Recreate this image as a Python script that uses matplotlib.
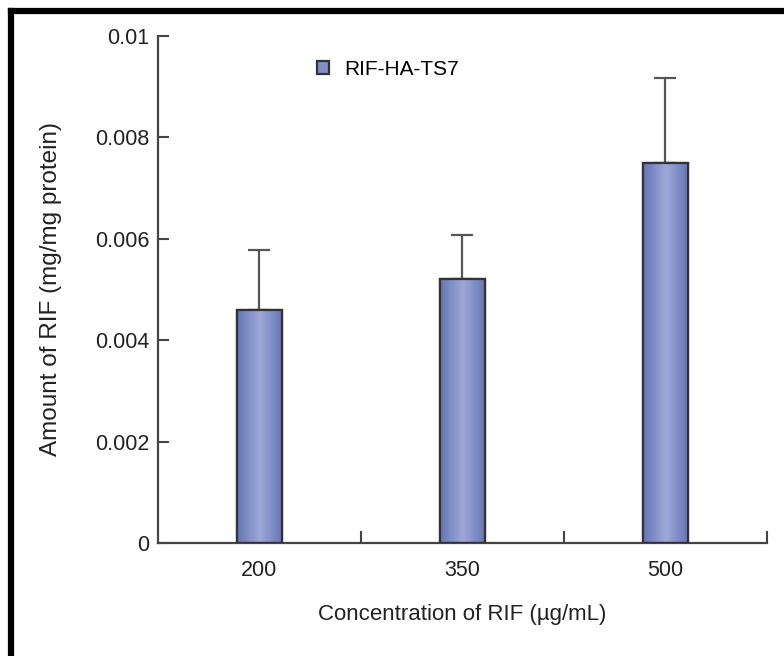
import numpy as np
import matplotlib.pyplot as plt
from matplotlib.lines import Line2D
from matplotlib.colors import LinearSegmentedColormap

plt.rcParams['font.family'] = ['Liberation Sans', 'DejaVu Sans']

concentrations = ['200', '350', '500']
amount = [0.0046, 0.0052, 0.0075]
amount_err = [0.00118, 0.00087, 0.00167]
series_name = 'RIF-HA-TS7'

fig = plt.figure(figsize=(7.84, 6.56), dpi=100)
ax = fig.add_axes([0.2015, 0.1723, 0.7768, 0.7728])

x = np.arange(len(concentrations))
width = 0.225
bars = ax.bar(x, amount, width, color='#8390c8', edgecolor='#333333', linewidth=1.6,
              yerr=[np.zeros(len(amount)), amount_err],
              error_kw=dict(ecolor='#555555', elinewidth=1.6, capsize=8, capthick=1.6),
              label=series_name, zorder=2)

# horizontal gradient inside each bar
cmap = LinearSegmentedColormap.from_list('bargrad', ['#6574b4', '#9ea9d8', '#6574b4'])
grad = np.linspace(0, 1, 256).reshape(1, -1)
for b in bars:
    x0, y0 = b.get_x(), b.get_y()
    im = ax.imshow(grad, cmap=cmap, aspect='auto', zorder=2.5,
                   extent=[x0, x0 + b.get_width(), y0, y0 + b.get_height()])
    im.set_clip_path(b)
    outline = plt.Rectangle((x0, y0), b.get_width(), b.get_height(), fill=False,
                            edgecolor='#333333', linewidth=1.6, zorder=3)
    ax.add_patch(outline)

ax.set_xlim(-0.5, len(concentrations) - 0.5)
ax.set_ylim(0, 0.01)
ax.set_yticks([0, 0.002, 0.004, 0.006, 0.008, 0.01])
ax.set_yticklabels(['0', '0.002', '0.004', '0.006', '0.008', '0.01'])
ax.set_xticks(x)
ax.set_xticklabels(concentrations)
ax.set_xticks([0.5, 1.5, 2.5], minor=True)
ax.tick_params(axis='x', which='major', length=0, pad=12, labelsize=15.5, labelcolor='#222222')
ax.tick_params(axis='x', which='minor', direction='in', length=9, width=1.5, color='#444444')
ax.tick_params(axis='y', direction='in', length=8, width=1.5, color='#444444',
               pad=6, labelsize=15.5, labelcolor='#222222')

for s in ['top', 'right']:
    ax.spines[s].set_visible(False)
for s in ['left', 'bottom']:
    ax.spines[s].set_color('#444444')
    ax.spines[s].set_linewidth(1.6)

ax.set_xlabel('Concentration of RIF (µg/mL)', fontsize=16, color='#222222', labelpad=17)
ax.set_ylabel('Amount of RIF (mg/mg protein)', fontsize=17.5, color='#222222', labelpad=24)

ax.legend(loc='upper left', bbox_to_anchor=(0.23, 0.99), frameon=False, fontsize=15,
          handlelength=0.6, handleheight=0.6, handletextpad=0.7)

# black frame (left and top)
fig.add_artist(Line2D([0.0142, 0.0142], [0, 0.9825], transform=fig.transFigure,
                      color='black', linewidth=4.5, solid_capstyle='projecting'))
fig.add_artist(Line2D([0.0142, 1.0], [0.9825, 0.9825], transform=fig.transFigure,
                      color='black', linewidth=4.5, solid_capstyle='projecting'))

fig.savefig('out.png', dpi=100)
